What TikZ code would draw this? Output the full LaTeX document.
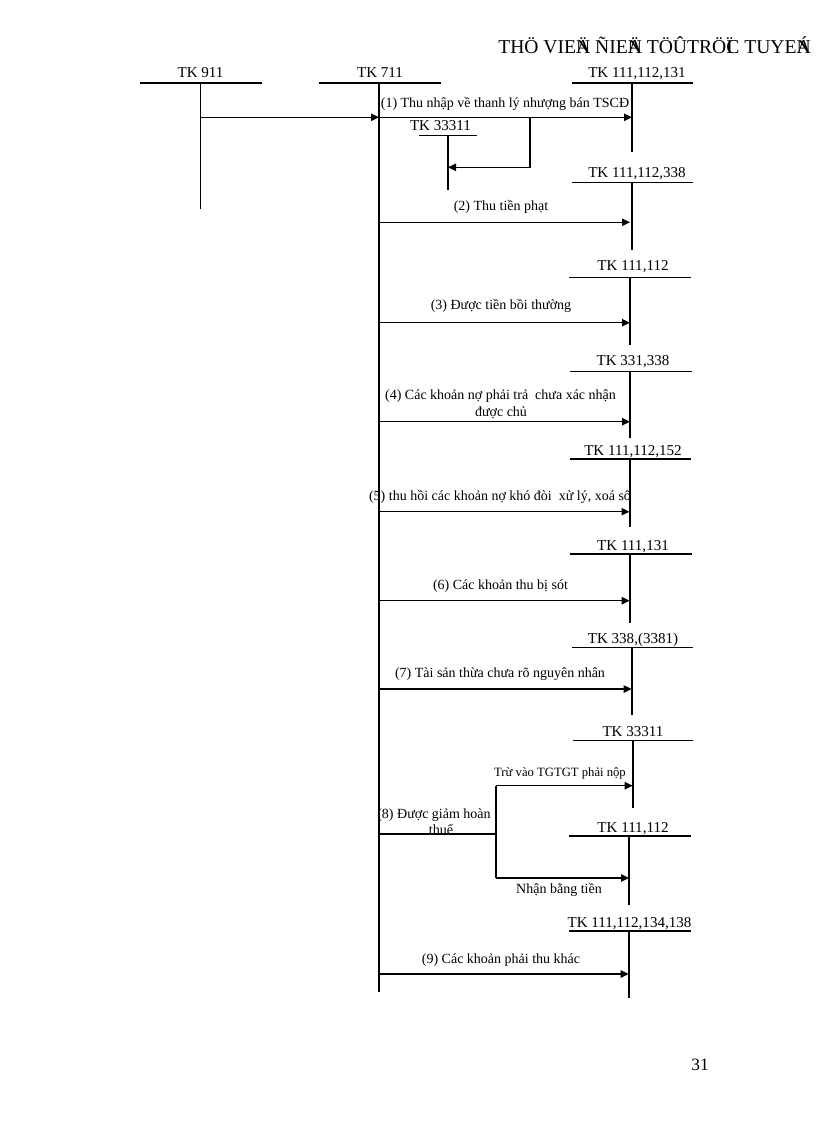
\documentclass[tikz,border=0pt]{standalone}
\usepackage{fontspec}
\setmainfont{Liberation Serif}
\usetikzlibrary{arrows.meta}
\begin{document}
\begin{tikzpicture}[x=0.75pt,y=-0.75pt,
  hline/.style={line width=1.1pt},
  vthick/.style={line width=1.5pt},
  vthin/.style={line width=0.8pt},
  arr/.style={line width=1.1pt,-{Triangle[length=6pt,width=5.5pt]}},
  lab/.style={font=\fontsize{10.5}{12}\selectfont,inner sep=0pt,anchor=base},
  slab/.style={font=\fontsize{9.5}{11}\selectfont,inner sep=0pt,anchor=base},
  alab/.style={font=\fontsize{11.3}{13}\selectfont,inner sep=0pt,anchor=base}]
\fill[white] (0,0) rectangle (816,1123);
\useasboundingbox (0,0) rectangle (816,1123);

% header and page number
\node[anchor=base west,inner sep=0pt,font=\fontsize{14.7}{17}\selectfont] (hdr) at (498,53.3)
  {THÖ VIE\rlap{Ä}N ÑIE\rlap{Ä}N TÖÛTRÖ\rlap{Ï}C TUYE\rlap{Á}N};
\node[anchor=base,inner sep=0pt,font=\fontsize{13}{15}\selectfont] (pg) at (700,1070) {31};

% TK 911
\node[alab] (k911) at (200.5,77.3) {TK 911};
\coordinate (k911l) at (140,83); \coordinate (k911r) at (262,83);
\draw[hline] (k911l) -- (k911r);
\coordinate (k911t) at (200.5,83); \coordinate (k911b) at (200.5,209);
\draw[vthin] (k911t) -- (k911b);

% TK 711
\node[alab] (k711) at (380,77.3) {TK 711};
\coordinate (k711l) at (318.5,83); \coordinate (k711r) at (440.5,83);
\draw[hline] (k711l) -- (k711r);
\coordinate (k711t) at (379,83); \coordinate (k711b) at (379,991.7);
\draw[vthin] (k711t) -- (k711b);

% TK 111,112,131
\node[alab] (k131) at (637,77.3) {TK 111,112,131};
\coordinate (k131l) at (572,83); \coordinate (k131r) at (693,83);
\draw[hline] (k131l) -- (k131r);
\coordinate (k131t) at (632,83); \coordinate (k131b) at (632,152);
\draw[vthick] (k131t) -- (k131b);

% TK 33311 (small)
\node[alab] (k3a) at (440.5,130.5) {TK 33311};
\coordinate (k3al) at (418.5,135.7); \coordinate (k3ar) at (477,135.7);
\draw[hline] (k3al) -- (k3ar);
\coordinate (k3at) at (448,135.7); \coordinate (k3ab) at (448,190);
\draw[vthin] (k3at) -- (k3ab);

% (1)
\coordinate (a0s) at (200.5,117.3); \coordinate (a0e) at (379,117.3);
\draw[arr] (a0s) -- (a0e);
\coordinate (a1e) at (632,117.3);
\draw[arr] (a0e) -- (a1e);
\node[lab] (l1) at (505,107.3) {(1) Thu nhập về thanh lý nhượng bán TSCĐ};
\coordinate (b1) at (530,117.3); \coordinate (b1d) at (530,167.3); \coordinate (b1e) at (448,167.3);
\draw[arr] (b1) -- (b1d) -- (b1e);

% TK 111,112,338
\node[alab] (k338) at (637,177.3) {TK 111,112,338};
\coordinate (k338l) at (572,182.7); \coordinate (k338r) at (693,182.7);
\draw[hline] (k338l) -- (k338r);
\coordinate (k338t) at (632,182.7); \coordinate (k338b) at (632,250);
\draw[vthick] (k338t) -- (k338b);
% (2)
\node[lab] (l2) at (501,210.7) {(2) Thu tiền phạt};
\coordinate (a2s) at (379,222.3); \coordinate (a2e) at (630,222.3);
\draw[arr] (a2s) -- (a2e);

% TK 111,112
\node[alab] (k112a) at (633,270) {TK 111,112};
\coordinate (k112al) at (569,277.7); \coordinate (k112ar) at (691,277.7);
\draw[hline] (k112al) -- (k112ar);
\coordinate (k112at) at (630,277.7); \coordinate (k112ab) at (630,345);
\draw[vthick] (k112at) -- (k112ab);
% (3)
\node[lab] (l3) at (501,309) {(3) Được tiền bồi thường};
\coordinate (a3s) at (379,322.7); \coordinate (a3e) at (630,322.7);
\draw[arr] (a3s) -- (a3e);

% TK 331,338
\node[alab] (k331) at (633,365) {TK 331,338};
\coordinate (k331l) at (570,371.7); \coordinate (k331r) at (692,371.7);
\draw[hline] (k331l) -- (k331r);
\coordinate (k331t) at (630,371.7); \coordinate (k331b) at (630,438);
\draw[vthick] (k331t) -- (k331b);
% (4)
\node[lab] (l4) at (500.5,399) {(4) Các khoản nợ phải trả\ \ chưa xác nhận};
\node[lab] (l4b) at (501,416) {được chủ};
\coordinate (a4s) at (379,421.7); \coordinate (a4e) at (630,421.7);
\draw[arr] (a4s) -- (a4e);

% TK 111,112,152
\node[alab] (k152) at (633,455) {TK 111,112,152};
\coordinate (k152l) at (570,459); \coordinate (k152r) at (691,459);
\draw[hline] (k152l) -- (k152r);
\coordinate (k152t) at (629.5,459); \coordinate (k152b) at (629.5,526.7);
\draw[vthick] (k152t) -- (k152b);
% (5)
\node[lab] (l5) at (500,500.7) {(5) thu hồi các khoản nợ khó đòi\ \ xử lý, xoá sổ};
\coordinate (a5s) at (379,511.7); \coordinate (a5e) at (629.5,511.7);
\draw[arr] (a5s) -- (a5e);

% TK 111,131
\node[alab] (k1131) at (633,550) {TK 111,131};
\coordinate (k1131l) at (570,554); \coordinate (k1131r) at (692,554);
\draw[hline] (k1131l) -- (k1131r);
\coordinate (k1131t) at (629.7,554); \coordinate (k1131b) at (629.7,622.7);
\draw[vthick] (k1131t) -- (k1131b);
% (6)
\node[lab] (l6) at (500.5,589) {(6) Các khoản thu bị sót};
\coordinate (a6s) at (379,600.7); \coordinate (a6e) at (629.7,600.7);
\draw[arr] (a6s) -- (a6e);

% TK 338,(3381)
\node[alab] (k3381) at (633,643) {TK 338,(3381)};
\coordinate (k3381l) at (572,647.5); \coordinate (k3381r) at (693,647.5);
\draw[hline] (k3381l) -- (k3381r);
\coordinate (k3381t) at (631.7,647.5); \coordinate (k3381b) at (631.7,715);
\draw[vthick] (k3381t) -- (k3381b);
% (7)
\node[lab] (l7) at (500,677) {(7) Tài sản thừa chưa rõ nguyên nhân};
\coordinate (a7s) at (379,689); \coordinate (a7e) at (631.7,689);
\draw[arr] (a7s) -- (a7e);

% TK 33311
\node[alab] (k33b) at (633,736.7) {TK 33311};
\coordinate (k33bl) at (572.7,740.5); \coordinate (k33br) at (693,740.5);
\draw[hline] (k33bl) -- (k33br);
\coordinate (k33bt) at (632.7,740.5); \coordinate (k33bb) at (632.7,808);
\draw[vthick] (k33bt) -- (k33bb);

% TK 111,112 (second)
\node[alab] (k112b) at (633,832) {TK 111,112};
\coordinate (k112bl) at (569,836); \coordinate (k112br) at (691,836);
\draw[hline] (k112bl) -- (k112br);
\coordinate (k112bt) at (629,836); \coordinate (k112bb) at (629,905);
\draw[vthick] (k112bt) -- (k112bb);

% (8)
\node[lab] (l8) at (434,818) {(8) Được giảm hoàn};
\node[lab] (l8b) at (441,834) {thuế};
\coordinate (b8s) at (379,834); \coordinate (b8m) at (496,834);
\draw[vthin] (b8s) -- (b8m);
\coordinate (b8t) at (496,785.7); \coordinate (b8b) at (496,878);
\draw[hline] (b8t) -- (b8b);
\coordinate (a8ae) at (632.7,785.7); \coordinate (a8be) at (629,878);
\draw[arr] (b8t) -- (a8ae);
\draw[arr] (b8b) -- (a8be);
\node[slab] (l8t) at (560,776.7) {Trừ vào TGTGT phải nộp};
\node[lab] (l8n) at (559,893) {Nhận bằng tiền};

% TK 111,112,134,138
\node[alab] (k138) at (629.5,927.7) {TK 111,112,134,138};
\coordinate (k138l) at (569,931); \coordinate (k138r) at (691,931);
\draw[hline] (k138l) -- (k138r);
\coordinate (k138t) at (628.7,931); \coordinate (k138b) at (628.7,998);
\draw[vthick] (k138t) -- (k138b);
% (9)
\node[lab] (l9) at (501,963) {(9) Các khoản phải thu khác};
\coordinate (a9s) at (379,974); \coordinate (a9e) at (628.7,974);
\draw[arr] (a9s) -- (a9e);
\end{tikzpicture}
\end{document}
